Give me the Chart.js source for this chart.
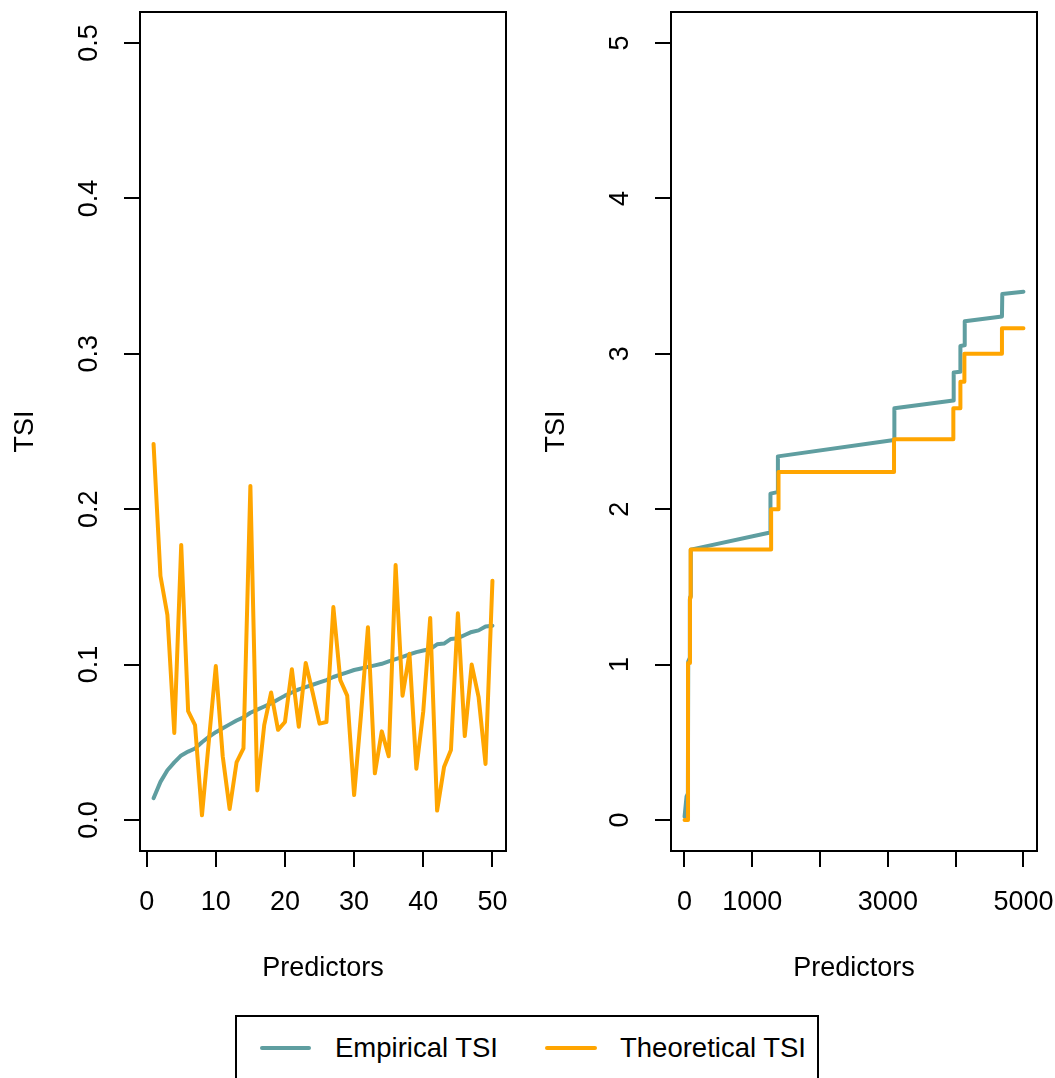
<!DOCTYPE html>
<html>
<head>
<meta charset="utf-8">
<script src="https://cdn.jsdelivr.net/npm/chart.js@4/dist/chart.umd.min.js"></script>
<style>
  html, body { margin: 0; padding: 0; background: #fff; }
  #wrap { position: relative; width: 1055px; height: 1078px; overflow: hidden; font-family: "Liberation Sans", Arial, sans-serif; }
  canvas { position: absolute; top: 0; }
  #leftChart { left: 0; }
  #rightChart { left: 527px; }
  #legend { position: absolute; left: 235px; top: 1015px; width: 584px; height: 90px; box-sizing: border-box; border: 2px solid #000; }
  .swatch { position: absolute; height: 4px; top: 1046px; border-radius: 2px; }
  .ltext { position: absolute; top: 1035px; font-size: 27.5px; line-height: 26.5px; color: #000; white-space: nowrap; }
</style>
</head>
<body>
<div id="wrap">
  <canvas id="leftChart" width="527" height="1010"></canvas>
  <canvas id="rightChart" width="528" height="1010"></canvas>
  <div id="legend"></div>
  <div class="swatch" style="left:260px;width:51px;background:#5F9EA0"></div>
  <div class="ltext" style="left:335px">Empirical TSI</div>
  <div class="swatch" style="left:545px;width:52px;background:#FFA500"></div>
  <div class="ltext" style="left:620px">Theoretical TSI</div>
</div>
<script>
// --- Données : panneau gauche (50 prédicteurs) ---
const predictors = Array.from({ length: 50 }, (_, i) => i + 1);
const empiricalLeft = [
  0.014, 0.0245, 0.032, 0.037, 0.0415, 0.044, 0.046, 0.050, 0.0535, 0.0565,
  0.059, 0.0615, 0.064, 0.066, 0.069, 0.071, 0.073, 0.075, 0.0775, 0.080,
  0.082, 0.084, 0.0855, 0.087, 0.0885, 0.090, 0.092, 0.0935, 0.095, 0.0965,
  0.0975, 0.0985, 0.0995, 0.1005, 0.102, 0.1035, 0.105, 0.1065, 0.108, 0.109,
  0.110, 0.113, 0.1135, 0.1165, 0.117, 0.119, 0.121, 0.122, 0.1245, 0.125
];
const theoreticalLeft = [
  0.242, 0.157, 0.132, 0.056, 0.177, 0.070, 0.061, 0.003, 0.051, 0.099,
  0.041, 0.007, 0.037, 0.046, 0.215, 0.019, 0.061, 0.082, 0.058, 0.063,
  0.097, 0.060, 0.101, 0.082, 0.062, 0.063, 0.137, 0.090, 0.080, 0.016,
  0.068, 0.124, 0.030, 0.057, 0.041, 0.164, 0.080, 0.107, 0.033, 0.070,
  0.130, 0.006, 0.034, 0.045, 0.133, 0.054, 0.100, 0.079, 0.036, 0.154
];

// --- Données : panneau droit (5000 prédicteurs) ---
const empiricalRightX = [1, 30, 50, 55, 75, 79, 88, 93, 1263, 1268, 1372, 1378, 3091, 3096, 3966, 3971, 4065, 4070, 4129, 4134, 4683, 4688, 5000];
const empiricalRight = [0.02, 0.15, 0.17, 1.02, 1.04, 1.42, 1.44, 1.74, 1.85, 2.10, 2.11, 2.34, 2.445, 2.65, 2.70, 2.88, 2.885, 3.05, 3.055, 3.21, 3.24, 3.385, 3.40];
const theoreticalRightX = [1, 52, 81, 91, 1278, 1387, 3091, 3966, 4070, 4129, 4683, 5000];
const theoreticalRight = [0, 1.01, 1.43, 1.74, 2.0, 2.24, 2.45, 2.65, 2.82, 3.0, 3.165, 3.165];

// --- Graduations ---
const leftXTicks = [0, 10, 20, 30, 40, 50];
const leftXLabels = ["0", "10", "20", "30", "40", "50"];
const leftYTicks = [0, 0.1, 0.2, 0.3, 0.4, 0.5];
const leftYLabels = ["0.0", "0.1", "0.2", "0.3", "0.4", "0.5"];
const rightXTicks = [0, 1000, 2000, 3000, 4000, 5000];
const rightXLabels = ["0", "1000", "", "3000", "", "5000"];
const rightYTicks = [0, 1, 2, 3, 4, 5];
const rightYLabels = ["0", "1", "2", "3", "4", "5"];

const TEAL = "#5F9EA0";
const ORANGE = "#FFA500";
const FONT = '27px "Liberation Sans", Arial, sans-serif';

// --- Axes façon R : cadre, libellés, titres ---
const rAxes = {
  id: "rAxes",
  afterDraw(chart, args, opts) {
    const { ctx, chartArea: a } = chart;
    const x = chart.scales.x, y = chart.scales.y;
    ctx.save();
    ctx.strokeStyle = "#000";
    ctx.lineWidth = 2;
    ctx.strokeRect(a.left, a.top, a.right - a.left, a.bottom - a.top);
    ctx.fillStyle = "#000";
    ctx.font = FONT;
    ctx.textAlign = "center";
    ctx.textBaseline = "alphabetic";
    x.ticks.forEach((t, i) => {
      ctx.fillText(opts.xLabels[i], x.getPixelForValue(t.value), 910);
    });
    ctx.fillText("Predictors", (a.left + a.right) / 2, 976);
    y.ticks.forEach((t, i) => {
      ctx.save();
      ctx.translate(a.left - 43, y.getPixelForValue(t.value));
      ctx.rotate(-Math.PI / 2);
      ctx.fillText(opts.yLabels[i], 0, 0);
      ctx.restore();
    });
    ctx.save();
    ctx.translate(a.left - 107, (a.top + a.bottom) / 2);
    ctx.rotate(-Math.PI / 2);
    ctx.fillText("TSI", 0, 0);
    ctx.restore();
    ctx.restore();
  }
};

function makeScales(xMin, xMax, xTicks, yMin, yMax, yTicks, yWidth) {
  const grid = { display: true, drawOnChartArea: false, drawTicks: true, tickLength: 16, color: "#000", lineWidth: 2 };
  return {
    x: {
      type: "linear", min: xMin, max: xMax,
      grid: grid, border: { display: false },
      ticks: { display: false },
      afterBuildTicks: (s) => { s.ticks = xTicks.map((v) => ({ value: v })); },
      afterFit: (s) => { s.height = 1010 - 851; }
    },
    y: {
      type: "linear", min: yMin, max: yMax,
      grid: grid, border: { display: false },
      ticks: { display: false },
      afterBuildTicks: (s) => { s.ticks = yTicks.map((v) => ({ value: v })); },
      afterFit: (s) => { s.width = yWidth; }
    }
  };
}

function lineDataset(label, xs, ys, color, order, stepped) {
  return {
    label: label,
    data: xs.map((v, i) => ({ x: v, y: ys[i] })),
    borderColor: color,
    backgroundColor: color,
    borderWidth: 4,
    pointRadius: 0,
    tension: 0,
    stepped: stepped,
    borderJoinStyle: "round",
    borderCapStyle: "round",
    order: order
  };
}

function commonOptions(scales, xLabels, yLabels, rightPad) {
  return {
    responsive: false,
    animation: false,
    devicePixelRatio: 1,
    layout: { padding: { top: 12, right: rightPad, left: 0, bottom: 0 } },
    plugins: {
      legend: { display: false },
      tooltip: { enabled: false },
      rAxes: { xLabels: xLabels, yLabels: yLabels }
    },
    scales: scales
  };
}

// --- Panneau gauche ---
new Chart(document.getElementById("leftChart").getContext("2d"), {
  type: "line",
  data: {
    datasets: [
      lineDataset("Empirical TSI", predictors, empiricalLeft, TEAL, 2, false),
      lineDataset("Theoretical TSI", predictors, theoreticalLeft, ORANGE, 1, false)
    ]
  },
  options: commonOptions(makeScales(-0.96, 51.96, leftXTicks, -0.02, 0.52, leftYTicks, 140), leftXLabels, leftYLabels, 527 - 506),
  plugins: [rAxes]
});

// --- Panneau droit ---
new Chart(document.getElementById("rightChart").getContext("2d"), {
  type: "line",
  data: {
    datasets: [
      lineDataset("Empirical TSI", empiricalRightX, empiricalRight, TEAL, 2, false),
      lineDataset("Theoretical TSI", theoreticalRightX, theoreticalRight, ORANGE, 1, true)
    ]
  },
  options: commonOptions(makeScales(-199, 5200, rightXTicks, -0.2, 5.2, rightYTicks, 671 - 527), rightXLabels, rightYLabels, 528 - (1037 - 527)),
  plugins: [rAxes]
});
</script>
</body>
</html>
